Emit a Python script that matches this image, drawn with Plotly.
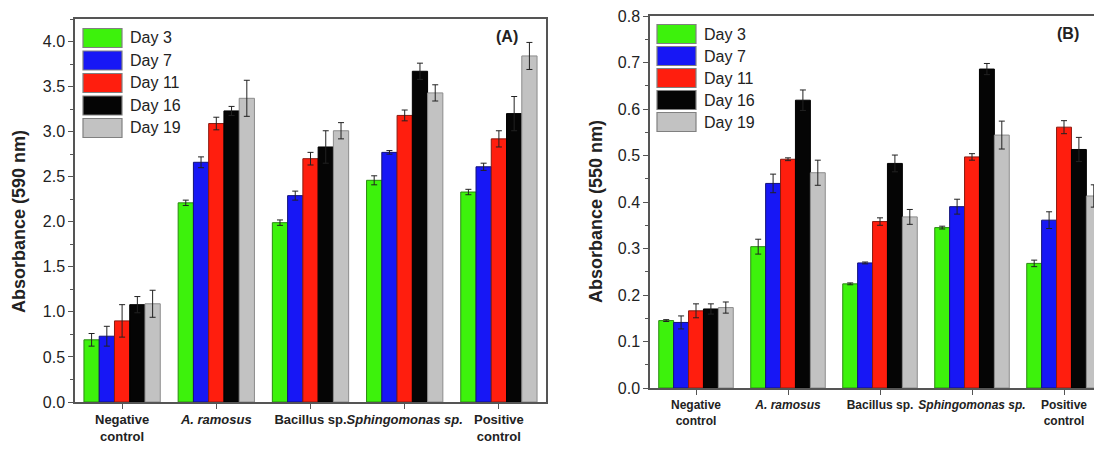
import plotly.graph_objects as go

categories = ["Negative control", "A. ramosus", "Bacillus sp.", "Sphingomonas sp.", "Positive control"]
tick_labels = ["<b>Negative<br>control</b>", "<b><i>A. ramosus</i></b>", "<b>Bacillus sp.</b>",
               "<b><i>Sphingomonas sp.</i></b>", "<b>Positive<br>control</b>"]
days = ["Day 3", "Day 7", "Day 11", "Day 16", "Day 19"]

# Panel A: Absorbance (590 nm)
a_day3 = [0.69, 2.21, 1.99, 2.46, 2.33]
a_day7 = [0.73, 2.66, 2.29, 2.77, 2.61]
a_day11 = [0.90, 3.09, 2.70, 3.18, 2.92]
a_day16 = [1.08, 3.23, 2.83, 3.67, 3.20]
a_day19 = [1.09, 3.37, 3.01, 3.43, 3.84]
a_err3 = [0.07, 0.03, 0.03, 0.05, 0.03]
a_err7 = [0.11, 0.06, 0.05, 0.02, 0.04]
a_err11 = [0.18, 0.07, 0.07, 0.06, 0.09]
a_err16 = [0.09, 0.05, 0.18, 0.09, 0.19]
a_err19 = [0.15, 0.20, 0.09, 0.09, 0.15]

# Panel B: Absorbance (550 nm)
b_day3 = [0.145, 0.304, 0.224, 0.345, 0.268]
b_day7 = [0.141, 0.440, 0.269, 0.390, 0.361]
b_day11 = [0.166, 0.492, 0.358, 0.497, 0.561]
b_day16 = [0.170, 0.619, 0.483, 0.686, 0.513]
b_day19 = [0.173, 0.463, 0.368, 0.544, 0.413]
b_err3 = [0.002, 0.016, 0.002, 0.003, 0.007]
b_err7 = [0.014, 0.020, 0.002, 0.016, 0.018]
b_err11 = [0.015, 0.003, 0.008, 0.007, 0.014]
b_err16 = [0.011, 0.022, 0.018, 0.012, 0.026]
b_err19 = [0.012, 0.027, 0.016, 0.030, 0.024]

a_ticks = [0, 0.5, 1.0, 1.5, 2.0, 2.5, 3.0, 3.5, 4.0]
b_ticks = [0, 0.1, 0.2, 0.3, 0.4, 0.5, 0.6, 0.7, 0.8]

a_values = [a_day3, a_day7, a_day11, a_day16, a_day19]
a_errors = [a_err3, a_err7, a_err11, a_err16, a_err19]
b_values = [b_day3, b_day7, b_day11, b_day16, b_day19]
b_errors = [b_err3, b_err7, b_err11, b_err16, b_err19]

fill_colors = ["#3df20c", "#1717f5", "#ff1e0e", "#050505", "#c2c2c2"]
edge_colors = ["#2a8a10", "#12127a", "#8a1a10", "#000000", "#8c8c8c"]

FONT = "Liberation Sans, Arial, sans-serif"
W, H = 1102, 450
OFF = 8  # page body margin offset of the rendered figure


def px(x):
    return (x - OFF) / W


def py(y):
    return 1 - (y - OFF) / H


fig = go.Figure()

for i, d in enumerate(days):
    fig.add_trace(go.Bar(
        x=categories, y=a_values[i], name=d, xaxis="x", yaxis="y",
        marker=dict(color=fill_colors[i], line=dict(color=edge_colors[i], width=1)),
        error_y=dict(type="data", array=a_errors[i], color="#222222", thickness=1, width=3),
        showlegend=False,
    ))
    fig.add_trace(go.Bar(
        x=categories, y=b_values[i], name=d, xaxis="x2", yaxis="y2",
        marker=dict(color=fill_colors[i], line=dict(color=edge_colors[i], width=1)),
        error_y=dict(type="data", array=b_errors[i], color="#222222", thickness=1, width=3),
        showlegend=False,
    ))

axis_line = dict(showline=True, linecolor="#555555", linewidth=1.5, showgrid=False,
                 zeroline=False, automargin=False)

fig.update_layout(
    width=W, height=H,
    margin=dict(l=0, r=0, t=0, b=0),
    paper_bgcolor="white", plot_bgcolor="white",
    barmode="group", bargap=0.19, bargroupgap=0.0,
    showlegend=False,
    font=dict(family=FONT, color="#222222"),
    xaxis=dict(domain=[px(75), px(546)], anchor="y", range=[-0.5, 4.5],
               tickvals=categories, ticktext=tick_labels, ticks="outside", ticklen=5,
               tickangle=0, tickcolor="#555555", mirror=True,
               tickfont=dict(size=13, family=FONT, color="#222222"), **axis_line),
    yaxis=dict(domain=[py(402), py(19)], anchor="x", range=[0, 4.25],
               tickvals=a_ticks, ticklabeloverflow="allow",
               tickformat=".1f", ticks="outside", ticklen=5, tickcolor="#555555",
               minor=dict(dtick=0.25, ticks="outside", ticklen=3, tickcolor="#555555"),
               mirror=True, tickprefix="<b>", ticksuffix="</b>",
               tickfont=dict(size=16, family=FONT, color="#222222"), **axis_line),
    xaxis2=dict(domain=[px(650), 1.0], anchor="y2", range=[-0.5, 4.5],
                tickvals=categories, ticktext=tick_labels, ticks="outside", ticklen=5,
                tickangle=0, tickcolor="#555555", mirror=True,
                tickfont=dict(size=12, family=FONT, color="#222222"), **axis_line),
    yaxis2=dict(domain=[py(388), py(16)], anchor="x2", range=[0, 0.8001],
                tickvals=b_ticks, ticklabeloverflow="allow",
                tickformat=".1f", ticks="outside", ticklen=5, tickcolor="#555555",
                minor=dict(dtick=0.05, ticks="outside", ticklen=3, tickcolor="#555555"),
                mirror=False, tickprefix="<b>", ticksuffix="</b>",
                tickfont=dict(size=16, family=FONT, color="#222222"), **axis_line),
)

shapes = []
annotations = []

# Legends (drawn as large swatches like the original)
legend_specs = [
    dict(x0=83, x1=122, yc=38, pitch=22.5, tx=128),
    dict(x0=657, x1=696, yc=34, pitch=22.0, tx=702),
]
for spec in legend_specs:
    for i, d in enumerate(days):
        yc = spec["yc"] + i * spec["pitch"]
        shapes.append(dict(type="rect", xref="paper", yref="paper",
                           x0=px(spec["x0"]), x1=px(spec["x1"]),
                           y0=py(yc + 9.5), y1=py(yc - 9.5),
                           fillcolor=fill_colors[i], line=dict(color="#808080", width=1.2)))
        annotations.append(dict(xref="paper", yref="paper", x=px(spec["tx"]), y=py(yc),
                                xanchor="left", yanchor="middle", showarrow=False,
                                text=d, font=dict(size=16, family=FONT, color="#222222")))

annotations.append(dict(xref="paper", yref="paper", x=px(507), y=py(37), showarrow=False,
                        xanchor="center", yanchor="middle",
                        text="<b>(A)</b>", font=dict(size=16, family=FONT, color="#222222")))
annotations.append(dict(xref="paper", yref="paper", x=px(1068), y=py(33), showarrow=False,
                        xanchor="center", yanchor="middle",
                        text="<b>(B)</b>", font=dict(size=16, family=FONT, color="#222222")))
annotations.append(dict(xref="paper", yref="paper", x=px(19), y=py(222), showarrow=False,
                        xanchor="center", yanchor="middle",
                        textangle=-90, text="<b>Absorbance (590 nm)</b>",
                        font=dict(size=18, family=FONT, color="#222222")))
annotations.append(dict(xref="paper", yref="paper", x=px(596), y=py(212), showarrow=False,
                        xanchor="center", yanchor="middle",
                        textangle=-90, text="<b>Absorbance (550 nm)</b>",
                        font=dict(size=18, family=FONT, color="#222222")))

fig.update_layout(shapes=shapes, annotations=annotations)

fig.write_html("out.html")
